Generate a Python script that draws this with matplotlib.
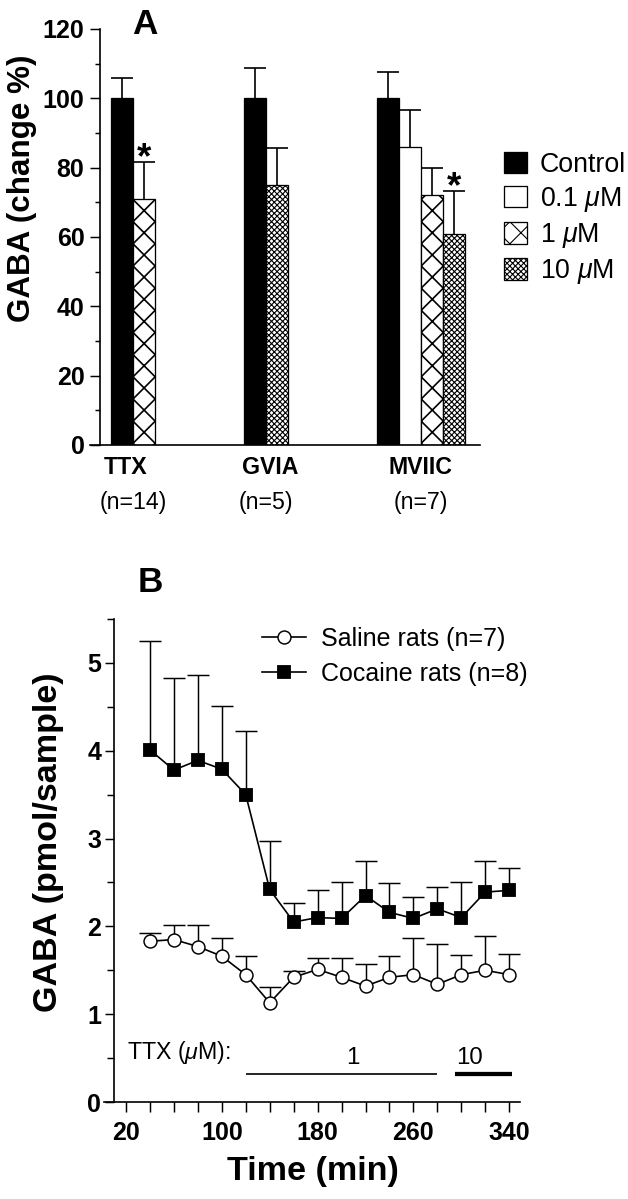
import numpy as np
import matplotlib
matplotlib.use("Agg")
import matplotlib.pyplot as plt
from matplotlib.ticker import FixedLocator, MultipleLocator
import matplotlib.transforms as mtransforms

plt.rcParams['font.family'] = ['Liberation Sans', 'DejaVu Sans']
plt.rcParams['mathtext.fontset'] = 'custom'
plt.rcParams['mathtext.rm'] = 'Liberation Sans'
plt.rcParams['mathtext.it'] = 'Liberation Sans:italic'
plt.rcParams['mathtext.bf'] = 'Liberation Sans:bold'
plt.rcParams['hatch.linewidth'] = 0.8

# ---- panel A data (% of control) ----
conditions = ['Control', r'0.1 $\mu$M', r'1 $\mu$M', r'10 $\mu$M']
groups = ['TTX', 'GVIA', 'MVIIC']
group_n = ['(n=14)', '(n=5)', '(n=7)']
ttx_cond = [0, 2]
ttx_mean = [100, 71]
ttx_sem = [5.8, 10.7]
gvia_cond = [0, 3]
gvia_mean = [100, 75]
gvia_sem = [8.8, 10.8]
mviic_cond = [0, 1, 2, 3]
mviic_mean = [100, 86, 72, 61]
mviic_sem = [7.5, 10.5, 8.0, 12.3]
signif = [(0, 1), (2, 3)]  # (group, slot) with *

# ---- panel B data (pmol/sample) ----
times = [40, 60, 80, 100, 120, 140, 160, 180, 200, 220, 240, 260, 280, 300, 320, 340]
saline_mean = [1.83, 1.85, 1.77, 1.66, 1.45, 1.13, 1.42, 1.51, 1.42, 1.32, 1.42, 1.45, 1.34, 1.45, 1.50, 1.45]
saline_sem = [0.10, 0.17, 0.25, 0.21, 0.21, 0.18, 0.07, 0.13, 0.22, 0.25, 0.24, 0.42, 0.46, 0.22, 0.39, 0.24]
cocaine_mean = [4.01, 3.78, 3.89, 3.79, 3.50, 2.42, 2.05, 2.10, 2.09, 2.35, 2.16, 2.09, 2.20, 2.10, 2.39, 2.41]
cocaine_sem = [1.24, 1.05, 0.97, 0.72, 0.73, 0.55, 0.22, 0.31, 0.41, 0.39, 0.33, 0.24, 0.25, 0.40, 0.35, 0.26]
ttx_1_period = [120, 280]
ttx_10_period = [295, 342]


def up_errorbar(ax, x, y, err, lw, cap):
    # error bar drawn upward only (no lower cap)
    eb = ax.errorbar(x, y, yerr=[np.zeros(len(np.atleast_1d(err))), err], fmt='none',
                     ecolor='black', elinewidth=lw, capsize=cap, capthick=lw, zorder=1)
    eb[1][0].set_visible(False)
    return eb


DPI = 133
fig = plt.figure(figsize=(628 / DPI, 1199 / DPI), dpi=DPI)

# ================= A =================
axA = fig.add_axes([100 / 628, 1 - 445 / 1199, 380 / 628, 416 / 1199])
face = ['black', 'white', 'white', 'white']
hatch = [None, None, 'xx', 'xxxxxxxx']
hatch_lw = [0.8, 0.8, 0.9, 0.6]
bw = 0.98
starts = [0.5, 6.4, 12.3]
data = [(ttx_cond, ttx_mean, ttx_sem), (gvia_cond, gvia_mean, gvia_sem),
        (mviic_cond, mviic_mean, mviic_sem)]
handles = {}
tops = {}
for g, (cond, mean, sem) in enumerate(data):
    for slot, (c, m, s) in enumerate(zip(cond, mean, sem)):
        x = starts[g] + slot * bw
        plt.rcParams['hatch.linewidth'] = hatch_lw[c]
        b = axA.bar(x, m, width=bw, align='edge', color=face[c], hatch=hatch[c],
                    edgecolor='black', linewidth=0.7, zorder=2)
        handles[c] = b[0]
        up_errorbar(axA, [x + bw / 2], [m], [s], 0.9, 6)
        tops[(g, slot)] = (x + bw / 2, m + s)

for key in signif:
    xs, ys = tops[key]
    axA.text(xs, ys + 0.8, '*', ha='center', va='center', fontsize=20, fontweight='bold')

axA.set_xlim(0, 16.9)
axA.set_ylim(0, 120)
axA.spines['top'].set_visible(False)
axA.spines['right'].set_visible(False)
axA.spines['bottom'].set_bounds(-0.45, 16.9)
for sp in axA.spines.values():
    sp.set_linewidth(0.9)
axA.set_xticks([])
axA.yaxis.set_major_locator(MultipleLocator(20))
axA.yaxis.set_minor_locator(MultipleLocator(10))
axA.tick_params(axis='y', which='major', length=5.4, width=0.8, pad=3, labelsize=13.5)
axA.tick_params(axis='y', which='minor', length=2.7, width=0.8)
for lab in axA.get_yticklabels():
    lab.set_fontweight('bold')
axA.set_ylabel('GABA (change %)', fontsize=17, fontweight='bold')
axA.yaxis.set_label_coords(-0.166, 0.618)

trA = mtransforms.blended_transform_factory(axA.transData, axA.transAxes)
name_shift = [-0.35, 0.2, 0.0]
for g, (name, n) in enumerate(zip(groups, group_n)):
    ncond = len(data[g][0])
    cx = starts[g] + ncond * bw / 2
    axA.text(cx + name_shift[g], -0.055, name, transform=trA, ha='center', va='center',
             fontsize=12.5, fontweight='bold')
    axA.text(cx, -0.139, n, transform=trA, ha='center', va='center', fontsize=12.5)

axA.legend([handles[i] for i in range(4)], conditions, loc='upper left',
           bbox_to_anchor=(1.063, 0.705), frameon=False, fontsize=14.5,
           handlelength=0.85, handleheight=0.85, handletextpad=0.5,
           labelspacing=0.27, borderpad=0, borderaxespad=0)

fig.text(145 / 628, 1 - 24 / 1199, 'A', ha='center', va='center', fontsize=19, fontweight='bold')

# ================= B =================
axB = fig.add_axes([114 / 628, 1 - 1102 / 1199, 406 / 628, 483 / 1199])
up_errorbar(axB, times, saline_mean, saline_sem, 0.8, 6)
up_errorbar(axB, times, cocaine_mean, cocaine_sem, 0.8, 6)
axB.plot(times, saline_mean, '-o', color='black', lw=0.9, markersize=7,
         markerfacecolor='white', markeredgecolor='black', markeredgewidth=0.8,
         label='Saline rats (n=7)', zorder=3)
axB.plot(times, cocaine_mean, '-s', color='black', lw=0.9, markersize=6.8,
         markerfacecolor='black', markeredgecolor='black',
         label='Cocaine rats (n=8)', zorder=3)

axB.plot(ttx_1_period, [0.32, 0.32], color='black', lw=0.9, solid_capstyle='butt')
axB.plot(ttx_10_period, [0.32, 0.32], color='black', lw=2.3, solid_capstyle='butt')
axB.text(21, 0.56, r'TTX ($\mu$M):', ha='left', va='center', fontsize=12.5)
axB.text(np.mean(ttx_1_period) + 9, 0.5, '1', ha='center', va='center', fontsize=13)
axB.text(np.mean(ttx_10_period) - 12, 0.5, '10', ha='center', va='center', fontsize=13)

axB.set_xlim(10, 349)
axB.set_ylim(0, 5.5)
axB.spines['top'].set_visible(False)
axB.spines['right'].set_visible(False)
axB.spines['bottom'].set_bounds(1.5, 349)
for sp in axB.spines.values():
    sp.set_linewidth(0.9)
axB.xaxis.set_major_locator(FixedLocator([20, 100, 180, 260, 340]))
axB.xaxis.set_minor_locator(MultipleLocator(20))
axB.yaxis.set_major_locator(MultipleLocator(1))
axB.yaxis.set_minor_locator(MultipleLocator(0.5))
axB.tick_params(axis='x', which='both', length=5.4, width=0.8, pad=5, labelsize=13.5)
axB.tick_params(axis='y', which='major', length=5, width=0.8, pad=2, labelsize=13.5)
axB.tick_params(axis='y', which='minor', length=3.8, width=0.8)
for lab in axB.get_xticklabels() + axB.get_yticklabels():
    lab.set_fontweight('bold')
axB.set_ylabel('GABA (pmol/sample)', fontsize=18.5, fontweight='bold')
axB.yaxis.set_label_coords(-0.123, 0.538)
axB.set_xlabel('Time (min)', fontsize=18.5, fontweight='bold')
axB.xaxis.set_label_coords(0.489, -0.112)

axB.legend(loc='upper left', bbox_to_anchor=(0.365, 0.984), frameon=False, fontsize=13.5,
           handlelength=1.75, handletextpad=0.6, labelspacing=0.45,
           borderpad=0, borderaxespad=0)

fig.text(150 / 628, 1 - 583 / 1199, 'B', ha='center', va='center', fontsize=19, fontweight='bold')

fig.savefig('out.png', dpi=DPI)
